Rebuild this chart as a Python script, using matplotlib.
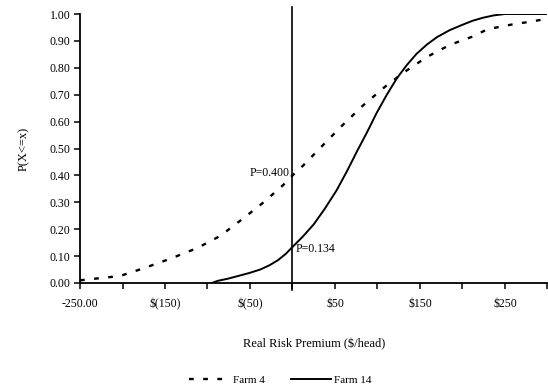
import matplotlib
matplotlib.use("Agg")
import matplotlib.pyplot as plt
from matplotlib.lines import Line2D

plt.rcParams['font.family'] = ['Liberation Serif', 'DejaVu Serif']

# Farm 4 (dashed) CDF
farm4_x = [-250, -203, -174, -144, -112, -85, -58, -34, -11, 0, 12, 36, 59, 83, 109,
           132, 158, 185, 211, 230, 260, 277, 292, 300]
farm4_p = [0.01, 0.026, 0.056, 0.09, 0.13, 0.175, 0.24, 0.30, 0.364, 0.40, 0.435, 0.513,
           0.587, 0.66, 0.73, 0.785, 0.84, 0.885, 0.915, 0.944, 0.962, 0.97, 0.978, 0.98]

# Farm 14 (solid) CDF
farm14_x = [-95, -88, -76, -64, -51, -38, -27, -17, -8, 0, 12, 25, 38, 52, 64, 76, 88,
            99, 111, 123, 135, 146, 158, 170, 185, 200, 212, 224, 237, 250, 300]
farm14_p = [0.0, 0.008, 0.016, 0.026, 0.037, 0.05, 0.066, 0.085, 0.108, 0.134, 0.172,
            0.218, 0.276, 0.345, 0.415, 0.49, 0.562, 0.632, 0.7, 0.762, 0.812, 0.852,
            0.886, 0.914, 0.94, 0.96, 0.975, 0.986, 0.995, 1.0, 1.0]

xticks = [-250, -200, -150, -100, -50, 0, 50, 100, 150, 200, 250, 300]
xticklabels = ["-250.00", "", "$(150)", "", "$(50)", "", "$50", "", "$150", "", "$250", ""]
yticks = [0.0, 0.1, 0.2, 0.3, 0.4, 0.5, 0.6, 0.7, 0.8, 0.9, 1.0]
yticklabels = ["0.00", "0.10", "0.20", "0.30", "0.40", "0.50", "0.60", "0.70", "0.80", "0.90", "1.00"]

fig = plt.figure(figsize=(5.48, 3.89), dpi=100)
ax = fig.add_axes([0.146, 0.2725, 0.853, 0.6915])

ax.plot(farm4_x, farm4_p, color='black', lw=1.7, linestyle=(0, (2, 4)), label='Farm 4')
ax.plot(farm14_x, farm14_p, color='black', lw=1.4, linestyle='-', label='Farm 14')
ax.plot([0, 0], [-0.025, 1.025], color='black', lw=1.2, clip_on=False)

ax.text(-3, 0.41, "P=0.400", ha='right', va='center', fontsize=8.5)
ax.text(4, 0.125, "P=0.134", ha='left', va='center', fontsize=8.5)

ax.set_xlim(-250, 300)
ax.set_ylim(0, 1.0)
ax.set_xticks(xticks)
ax.set_xticklabels(xticklabels, fontsize=8.5)
ax.set_yticks(yticks)
ax.set_yticklabels(yticklabels, fontsize=8.5)
ax.tick_params(direction='out', length=4, width=1.1, pad=3)
ax.xaxis.set_tick_params(pad=7)
for s in ['top', 'right']:
    ax.spines[s].set_visible(False)
for s in ['left', 'bottom']:
    ax.spines[s].set_linewidth(1.3)

ax.set_xlabel("Real Risk Premium ($/head)", fontsize=9, labelpad=20)
ax.set_ylabel("P(X<=x)", fontsize=9, labelpad=14)

handles = [Line2D([], [], color='black', lw=1.7, linestyle=(0, (2, 4))),
           Line2D([], [], color='black', lw=1.4)]
fig.legend(handles, ['Farm 4', 'Farm 14'], loc='center', bbox_to_anchor=(0.512, 0.022),
           ncol=2, frameon=False, fontsize=8, handlelength=3.6, columnspacing=2.4,
           handletextpad=0.3)

fig.savefig("out.png", dpi=100)
